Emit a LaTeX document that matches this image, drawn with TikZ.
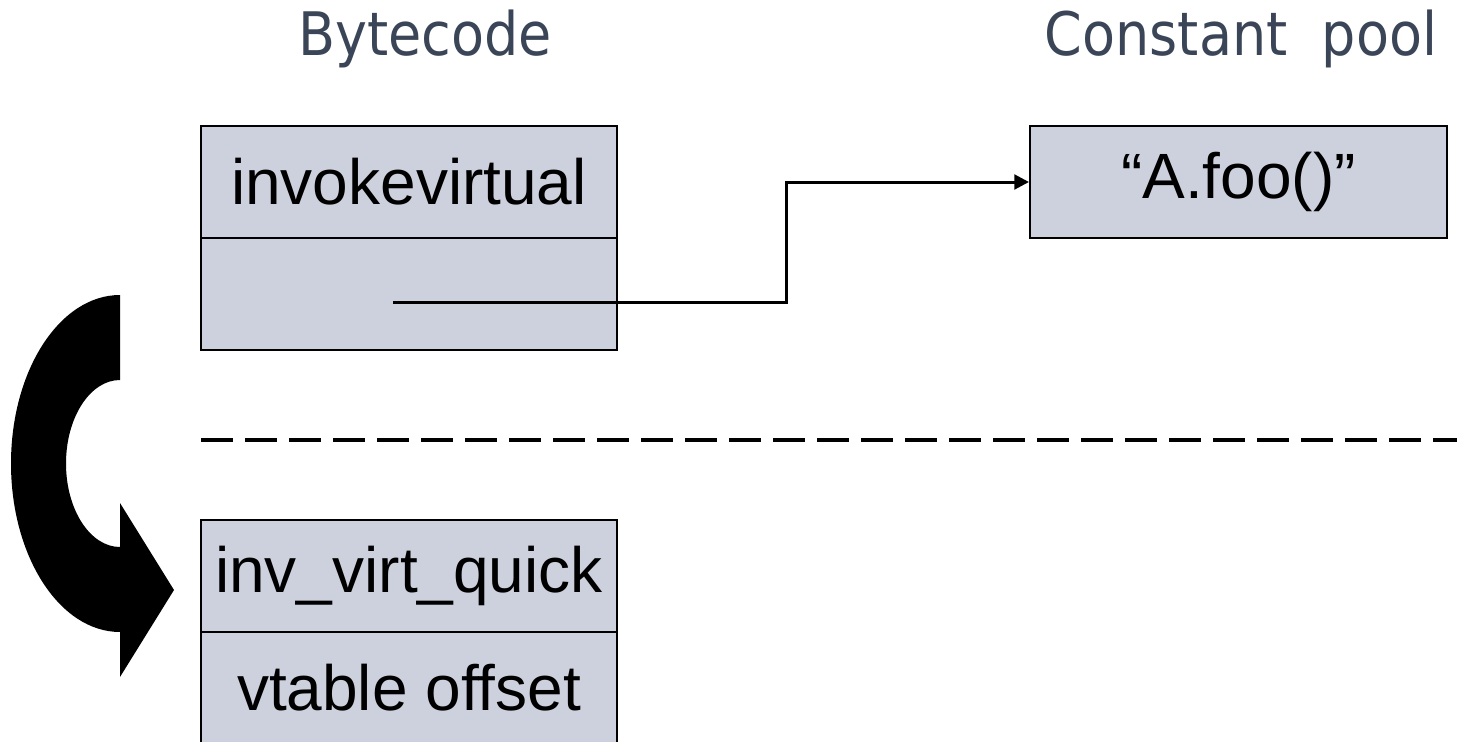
\documentclass[tikz,border=0pt]{standalone}
\usepackage{fontspec}
\setmainfont{Liberation Sans}
\newfontfamily\headfont[FakeStretch=0.9]{DejaVu Sans}
\usetikzlibrary{arrows.meta}
\definecolor{cellfill}{RGB}{205,209,222}
\definecolor{headink}{RGB}{59,69,88}
\tikzset{
  cell/.style={draw=black, line width=1.5pt, fill=cellfill, minimum width=312pt, minimum height=84pt,
    inner sep=0pt, font=\fontsize{48}{56}\selectfont},
  heading/.style={anchor=base, text=headink, inner sep=0pt, font=\headfont\fontsize{45}{54}\selectfont},
  link/.style={line width=2.25pt, -{Triangle[length=11pt,width=11pt]}},
  divider/.style={line width=3pt, dash pattern=on 24pt off 9pt},
}
\begin{document}
\begin{tikzpicture}[x=0.75pt, y=-0.75pt]
\clip (0,0) rectangle (1457,742);
\fill[white] (0,0) rectangle (1457,742);

% column headings
\node[heading] (hbc) at (425,56) {Bytecode};
\node[heading] (hcp) at (1241,56) {Constant\ \ pool};

% original instruction
\node[cell] (invoke) at (409,182) {invokevirtual};
\node[cell] (operand) at (409,294) {};

% constant pool entry
\node[cell, minimum width=312.75pt] (entry) at (1238.5,182) {“A.foo()”};

% rewritten (quickened) instruction
\node[cell] (quick) at (409,576) {inv\_virt\_quick};
\node[cell] (offset) at (409,688) {vtable offset};

% operand refers to the constant pool entry
\coordinate (ref) at (393,302);
\draw[link] (ref) -- ++(393,0) |- (entry.west);

% before / after separator
\coordinate (sepL) at (201,440);
\coordinate (sepR) at (1460,440);
\draw[divider] (sepL) -- (sepR);

% curved rewrite arrow
\fill[black] (120,295)
  arc[start angle=270, end angle=90, x radius=109, y radius=168.5]
  -- (120,677) -- (174,590) -- (120,503) -- (120,547)
  arc[start angle=90, end angle=270, x radius=54, y radius=83.5]
  -- cycle;
\end{tikzpicture}
\end{document}
